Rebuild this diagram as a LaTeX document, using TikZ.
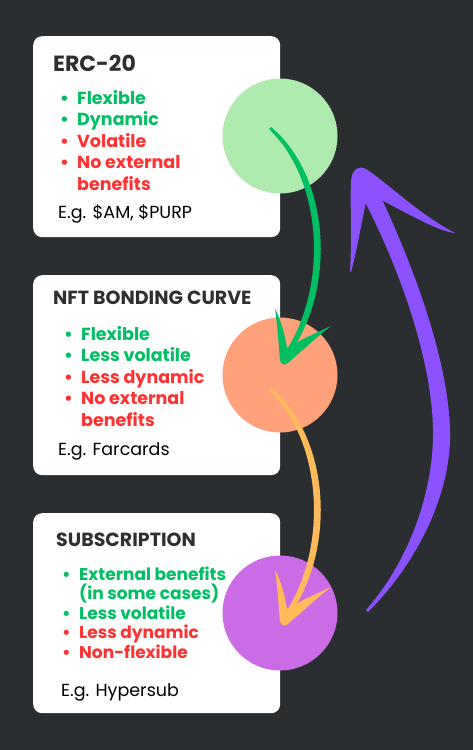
\documentclass[tikz,border=0pt]{standalone}
\usepackage{fontspec}
\setmainfont{Poppins}
\definecolor{bg}{HTML}{2B2E31}
\definecolor{grn}{HTML}{00BF63}
\definecolor{rd}{HTML}{FF3131}
\definecolor{ttl}{HTML}{2D2F33}
\definecolor{cgreen}{HTML}{AFEBAF}
\definecolor{csalmon}{HTML}{FFA17A}
\definecolor{cpurple}{HTML}{CB6CE6}
\definecolor{aorange}{HTML}{FFBA59}
\definecolor{apurple}{HTML}{8C52FF}
\begin{document}
\begin{tikzpicture}[x=1pt,y=-1pt,
  card/.style={fill=white,rounded corners=9pt,anchor=north west,minimum width=247pt,minimum height=201pt,inner sep=0pt},
  blob/.style={circle,inner sep=0pt,minimum size=115pt},
  ttlnode/.style={anchor=base west,inner sep=0pt,text=ttl,font=\bfseries\fontsize{19}{22}\selectfont},
  listnode/.style={anchor=base west,inner sep=0pt,align=left,font=\bfseries\fontsize{17.5}{21.5}\selectfont},
  egnode/.style={anchor=base west,inner sep=0pt,text=black,font=\fontsize{17.5}{21}\selectfont}
]
\fill[bg] (0,0) rectangle (473,750);
\useasboundingbox (0,0) rectangle (473,750);

% cards
\node[card] (box1) at (33,36) {};
\node[card,minimum height=200pt] (box2) at (33,275) {};
\node[card,minimum height=200pt] (box3) at (33,513) {};

% circles
\node[blob,fill=cgreen] (c1) at (280,136) {};
\node[blob,fill=csalmon] (c2) at (280,375) {};
\node[blob,fill=cpurple] (c3) at (280,613) {};

% texts box 1 (list node placed at its last baseline)
\node[ttlnode,font=\bfseries\fontsize{22}{24}\selectfont] (t1) at (53,71) {ERC-20};
\node[listnode] (l1) at (60,190) {%
\textcolor{grn}{\makebox[17pt][l]{•}Flexible}\\
\textcolor{grn}{\makebox[17pt][l]{•}Dynamic}\\
\textcolor{rd}{\makebox[17pt][l]{•}Volatile}\\
\textcolor{rd}{\makebox[17pt][l]{•}No external}\\
\textcolor{rd}{\hspace*{17pt}benefits}};
\node[egnode] (e1) at (58,218) {E.g. \$AM, \$PURP};

% texts box 2
\node[ttlnode] (t2) at (53,304) {NFT BONDING CURVE};
\node[listnode] (l2) at (64,426) {%
\textcolor{grn}{\makebox[17pt][l]{•}Flexible}\\
\textcolor{grn}{\makebox[17pt][l]{•}Less volatile}\\
\textcolor{rd}{\makebox[17pt][l]{•}Less dynamic}\\
\textcolor{rd}{\makebox[17pt][l]{•}No external}\\
\textcolor{rd}{\hspace*{17pt}benefits}};
\node[egnode] (e2) at (58,455) {E.g. Farcards};

% texts box 3
\node[ttlnode] (t3) at (56,546) {SUBSCRIPTION};
\node[listnode,font=\bfseries\fontsize{17}{19.5}\selectfont] (l3) at (62,658) {%
\textcolor{grn}{\makebox[17pt][l]{•}External benefits}\\
\textcolor{grn}{\hspace*{17pt}(in some cases)}\\
\textcolor{grn}{\makebox[17pt][l]{•}Less volatile}\\
\textcolor{rd}{\makebox[17pt][l]{•}Less dynamic}\\
\textcolor{rd}{\makebox[17pt][l]{•}Non-flexible}};
\node[egnode] (e3) at (61,696) {E.g. Hypersub};

% green arrow c1 -> c2
\fill[grn] (269,129) -- (271,127) .. controls (332,178) and (336,292) .. (288,356)
  -- (284,354) .. controls (328,289) and (324,182) .. (269,129) -- cycle;
\fill[grn] (275,309) .. controls (278,330) and (279,350) .. (280,360)
  .. controls (281,365) and (285,366) .. (289,362)
  .. controls (303,350) and (318,336) .. (331,326)
  .. controls (318,332) and (300,340) .. (287,348)
  .. controls (285,335) and (281,320) .. (275,309) -- cycle;

% orange arrow c2 -> c3
\begin{scope}[shift={(0,261)}]
\fill[aorange] (269,129) -- (271,127) .. controls (332,178) and (336,292) .. (288,356)
  -- (284,354) .. controls (328,289) and (324,182) .. (269,129) -- cycle;
\fill[aorange] (275,309) .. controls (278,330) and (279,350) .. (280,360)
  .. controls (281,365) and (285,366) .. (289,362)
  .. controls (303,350) and (318,336) .. (331,326)
  .. controls (318,332) and (300,340) .. (287,348)
  .. controls (285,335) and (281,320) .. (275,309) -- cycle;
\end{scope}

% purple arrow c3 -> c1
\fill[apurple] (366,610) -- (368,612) .. controls (420,560) and (452,490) .. (450,430)
  .. controls (448,360) and (415,270) .. (380,195)
  -- (365,202) .. controls (400,270) and (432,360) .. (433,430)
  .. controls (434,490) and (410,560) .. (366,610) -- cycle;
\fill[apurple] (350,272) .. controls (352,240) and (350,200) .. (351,183)
  .. controls (351,170) and (358,165) .. (366,169)
  .. controls (390,185) and (420,215) .. (455,233)
  .. controls (440,232) and (410,215) .. (376,197)
  -- (366,202) .. controls (360,230) and (356,255) .. (351,272) -- cycle;
\end{tikzpicture}
\end{document}
